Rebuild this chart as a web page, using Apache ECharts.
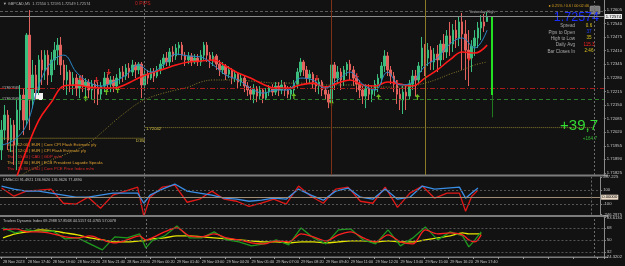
<!DOCTYPE html>
<html><head><meta charset="utf-8">
<script src="https://cdn.jsdelivr.net/npm/echarts@6/dist/echarts.min.js"></script>
<style>html,body{margin:0;padding:0;background:#121212;overflow:hidden}#c{width:625px;height:266px}</style>
</head><body><div id="c"></div>
<script>
// ---------- data ----------
const timeLabels = ["28 Nov 2023","28 Nov 17:40","28 Nov 19:00","28 Nov 20:20","28 Nov 21:40","28 Nov 23:00","29 Nov 00:20","29 Nov 01:40","29 Nov 03:00","29 Nov 04:20","29 Nov 05:40","29 Nov 07:00","29 Nov 08:20","29 Nov 09:40","29 Nov 11:00","29 Nov 12:20","29 Nov 13:40","29 Nov 15:00","29 Nov 16:20","29 Nov 17:40"];
const priceTicks = [1.72605,1.72540,1.72475,1.72410,1.72345,1.72280,1.72215,1.72150,1.72085,1.72020,1.71955,1.71890,1.71825];
const cciTicks = [287.225,100,-100,-246.2975];
const tdiTicks = [83.6134,68,50,32,24.3202];
const lastPrice = 1.72574;
const yesterdayHigh = 1.72600;
const orderLevels = [1.72231,1.72178];
const levelD1 = 1.72042;
const levelW = 1.71991;

const opens = [1.71935,1.72030,1.72102,1.71982,1.72054,1.71958,1.72126,1.72198,1.72078,1.72485,
1.72174,1.72294,1.72222,1.72366,1.72318,1.72389,1.72294,1.72366,1.72413,1.72437,
1.72342,1.72270,1.72308,1.72246,1.72279,1.72231,1.72270,1.72241,1.72260,1.72222,
1.72250,1.72231,1.72202,1.72241,1.72279,1.72250,1.72270,1.72241,1.72279,1.72308,
1.72289,1.72327,1.72308,1.72342,1.72318,1.72346,1.72246,1.72298,1.72279,1.72308,
1.72289,1.72318,1.72346,1.72375,1.72356,1.72404,1.72385,1.72423,1.72437,1.72389,
1.72366,1.72385,1.72356,1.72375,1.72356,1.72389,1.72437,1.72389,1.72366,1.72385,
1.72346,1.72318,1.72337,1.72298,1.72318,1.72279,1.72298,1.72260,1.72279,1.72241,
1.72222,1.72202,1.72231,1.72193,1.72222,1.72183,1.72212,1.72231,1.72212,1.72241,
1.72222,1.72246,1.72222,1.72202,1.72222,1.72250,1.72308,1.72356,1.72318,1.72279,
1.72298,1.72260,1.72241,1.72260,1.72222,1.72202,1.72164,1.72342,1.72279,1.72308,
1.72270,1.72318,1.72346,1.72318,1.72279,1.72250,1.72222,1.72193,1.72231,1.72202,
1.72222,1.72250,1.72279,1.72337,1.72385,1.72318,1.72289,1.72250,1.72202,1.72174,
1.72212,1.72193,1.72250,1.72289,1.72270,1.72337,1.72423,1.72375,1.72413,1.72356,
1.72394,1.72366,1.72442,1.72404,1.72481,1.72442,1.72509,1.72471,1.72548,1.72490,
1.72413,1.72375,1.72432,1.72471,1.72519,1.72548,1.72550];
const closes = [1.72030,1.72102,1.71982,1.72054,1.71958,1.72126,1.72198,1.72078,1.72485,1.72174,
1.72294,1.72222,1.72366,1.72318,1.72389,1.72294,1.72366,1.72413,1.72437,1.72342,
1.72270,1.72308,1.72246,1.72279,1.72231,1.72270,1.72241,1.72260,1.72222,1.72250,
1.72231,1.72202,1.72241,1.72279,1.72250,1.72270,1.72241,1.72279,1.72308,1.72289,
1.72327,1.72308,1.72342,1.72318,1.72346,1.72246,1.72298,1.72279,1.72308,1.72289,
1.72318,1.72346,1.72375,1.72356,1.72404,1.72385,1.72423,1.72437,1.72389,1.72366,
1.72385,1.72356,1.72375,1.72356,1.72389,1.72437,1.72389,1.72366,1.72385,1.72346,
1.72318,1.72337,1.72298,1.72318,1.72279,1.72298,1.72260,1.72279,1.72241,1.72222,
1.72202,1.72231,1.72193,1.72222,1.72183,1.72212,1.72231,1.72212,1.72241,1.72222,
1.72246,1.72222,1.72202,1.72222,1.72250,1.72308,1.72356,1.72318,1.72279,1.72298,
1.72260,1.72241,1.72260,1.72222,1.72202,1.72164,1.72342,1.72279,1.72308,1.72270,
1.72318,1.72346,1.72318,1.72279,1.72250,1.72222,1.72193,1.72231,1.72202,1.72222,
1.72250,1.72279,1.72337,1.72385,1.72318,1.72289,1.72250,1.72202,1.72174,1.72212,
1.72193,1.72250,1.72289,1.72270,1.72337,1.72423,1.72375,1.72413,1.72356,1.72394,
1.72366,1.72442,1.72404,1.72481,1.72442,1.72509,1.72471,1.72548,1.72490,1.72413,
1.72375,1.72432,1.72471,1.72519,1.72548,1.72528,1.72574];
const lows = [1.71887,1.71982,1.71935,1.71925,1.71863,1.71839,1.72030,1.72006,1.72054,1.72030,
1.72135,1.72174,1.72198,1.72246,1.72270,1.72246,1.72260,1.72318,1.72342,1.72294,
1.72222,1.72198,1.72212,1.72198,1.72193,1.72183,1.72212,1.72188,1.72183,1.72174,
1.72159,1.72150,1.72174,1.72212,1.72222,1.72212,1.72212,1.72222,1.72250,1.72260,
1.72270,1.72279,1.72289,1.72279,1.72298,1.72183,1.72222,1.72250,1.72270,1.72260,
1.72279,1.72298,1.72327,1.72337,1.72337,1.72356,1.72366,1.72389,1.72366,1.72337,
1.72346,1.72337,1.72346,1.72337,1.72337,1.72366,1.72356,1.72327,1.72337,1.72318,
1.72289,1.72298,1.72270,1.72279,1.72250,1.72260,1.72231,1.72241,1.72212,1.72193,
1.72174,1.72159,1.72164,1.72174,1.72159,1.72174,1.72193,1.72193,1.72198,1.72193,
1.72202,1.72193,1.72183,1.72174,1.72202,1.72231,1.72289,1.72289,1.72250,1.72250,
1.72231,1.72212,1.72202,1.72193,1.72174,1.72135,1.72126,1.72222,1.72250,1.72222,
1.72241,1.72289,1.72270,1.72241,1.72212,1.72183,1.72155,1.72135,1.72174,1.72164,
1.72193,1.72212,1.72250,1.72308,1.72289,1.72250,1.72212,1.72155,1.72126,1.72107,
1.72126,1.72174,1.72222,1.72193,1.72250,1.72308,1.72289,1.72337,1.72318,1.72318,
1.72308,1.72337,1.72366,1.72375,1.72385,1.72404,1.72423,1.72432,1.72318,1.72270,
1.72241,1.72308,1.72385,1.72423,1.72461,1.72500,1.72549];
const highs = [1.72078,1.72150,1.72126,1.72088,1.72078,1.72174,1.72246,1.72231,1.72495,1.72605,
1.72366,1.72342,1.72389,1.72413,1.72413,1.72413,1.72404,1.72452,1.72471,1.72476,
1.72366,1.72342,1.72318,1.72308,1.72298,1.72289,1.72294,1.72279,1.72274,1.72270,
1.72270,1.72260,1.72260,1.72308,1.72298,1.72289,1.72289,1.72298,1.72327,1.72337,
1.72346,1.72351,1.72366,1.72356,1.72356,1.72356,1.72327,1.72318,1.72327,1.72327,
1.72337,1.72366,1.72394,1.72404,1.72423,1.72432,1.72442,1.72452,1.72452,1.72404,
1.72404,1.72399,1.72394,1.72394,1.72413,1.72452,1.72452,1.72404,1.72404,1.72394,
1.72366,1.72356,1.72346,1.72337,1.72327,1.72318,1.72308,1.72298,1.72289,1.72260,
1.72241,1.72250,1.72241,1.72241,1.72231,1.72231,1.72246,1.72250,1.72260,1.72260,
1.72270,1.72260,1.72241,1.72241,1.72270,1.72327,1.72375,1.72366,1.72337,1.72318,
1.72308,1.72279,1.72279,1.72270,1.72241,1.72222,1.72380,1.72356,1.72337,1.72327,
1.72337,1.72356,1.72366,1.72337,1.72298,1.72270,1.72241,1.72250,1.72250,1.72241,
1.72270,1.72298,1.72356,1.72413,1.72404,1.72337,1.72308,1.72270,1.72231,1.72241,
1.72241,1.72270,1.72318,1.72318,1.72356,1.72476,1.72442,1.72447,1.72432,1.72423,
1.72437,1.72461,1.72490,1.72509,1.72548,1.72538,1.72557,1.72572,1.72591,1.72557,
1.72509,1.72461,1.72509,1.72548,1.72581,1.72586,1.72595];

// moving averages, read every 4th bar
const maIdx = [0,4,8,12,16,20,24,28,32,36,40,44,48,52,56,60,64,68,72,76,80,84,88,92,96,100,104,108,112,116,120,124,128,132,136,140,144,148,152,156];
const blueMa = [1.71958,1.71982,1.72054,1.72246,1.72356,1.72389,1.72308,1.72260,1.72241,1.72260,1.72294,1.72342,1.72308,1.72342,1.72394,1.72385,1.72380,1.72342,1.72294,1.72270,1.72231,1.72207,1.72222,1.72222,1.72279,1.72270,1.72231,1.72270,1.72308,1.72250,1.72222,1.72308,1.72246,1.72260,1.72337,1.72375,1.72442,1.72471,1.72423,1.72509];
const redMa = [null,1.71767,1.71935,1.72078,1.72164,1.72241,1.72246,1.72236,1.72231,1.72231,1.72250,1.72279,1.72303,1.72322,1.72342,1.72356,1.72361,1.72366,1.72337,1.72303,1.72279,1.72250,1.72231,1.72231,1.72246,1.72255,1.72236,1.72255,1.72270,1.72246,1.72241,1.72260,1.72250,1.72241,1.72279,1.72318,1.72366,1.72404,1.72399,1.72437];
const oliveMa = [1.71767,1.71791,1.71829,1.71858,1.71887,1.71911,1.71935,1.71968,1.72016,1.72069,1.72117,1.72160,1.72188,1.72207,1.72222,1.72236,1.72260,1.72270,1.72270,1.72270,1.72265,1.72260,1.72255,1.72255,1.72255,1.72250,1.72246,1.72246,1.72246,1.72241,1.72236,1.72236,1.72236,1.72241,1.72255,1.72274,1.72298,1.72318,1.72342,1.72356];

// signal arrows (bar index, price)
const sellIdx = [25.4,30.5,34.4,68.3,101.3,114.1,127.2,150.2];
const sellPrice = [1.72279,1.72270,1.72308,1.72366,1.72279,1.72289,1.72255,1.72375];
const buyIdx = [27,33.7,37.3,93.9,106,121.1,133.6];
const buyPrice = [1.72183,1.72212,1.72222,1.72193,1.72159,1.72188,1.72188];

// oscillators
const oscIdx = [0,4,8,12,16,20,24,28,32,36,40,44,46,48,52,56,60,64,68,72,76,80,84,88,92,96,100,104,108,112,116,120,124,128,132,136,140,144,148,150,152,154];
const cciBlue = [158,115,86,86,58,29,0,0,29,58,58,58,-86,29,115,187,86,58,29,-14,-29,-58,-43,-14,-29,115,29,-43,86,130,0,-29,115,-29,0,158,115,130,144,-14,58,130];
const cciRed = [130,14,86,100,115,-86,-100,0,-158,29,86,144,-273,0,144,173,-72,-29,86,-29,-58,-130,-86,-29,-100,158,14,-86,115,144,-58,-86,144,-144,58,158,-14,58,58,-200,14,100];
const tdiYellow = [53,59,62,65,63.5,60.5,57.5,53,50,47,47,48.5,49,51.5,53,56,56,54.5,53,51.5,50,48.5,47,47,45.5,47,47,45.5,47,48.5,48.5,47,48.5,47,47,50,53,56,60.5,59,59,59];
const tdiRed = [65,66.5,62,62,59,54.5,53,56,50,45.5,50,56,50,53,62,68,56,54.5,59,53,50,45.5,44,48.5,47,59,54.5,48.5,57.5,62,53,47,57.5,47,44,65,59,60.5,57.5,50,47,57.5];
const tdiGreen = [68,60.5,65,62,63.5,51.5,53,44,35,54.5,53,59,38,48.5,56,71,53,53,62,50,47,41,44,50,42.5,68,53,44,65,66.5,50,44,65,41,53,69.5,50,62,56,39.5,50,62];

// vertical markers (bar index)
const vSep = 46, vBrown = 106, vOlive = 136, vRight = 190.5, rangeIdx = 157.6, levelEnd = 190;
const dayRange = [1.72572,1.72198,1.72091];

const events = [
 ["Thu | 12:00 | EUR | Core CPI Flash Estimate y/y","#e0a030"],
 ["Thu | 12:00 | EUR | CPI Flash Estimate y/y","#e0a030"],
 ["Thu | 15:30 | CAD | GDP m/m","#e02a2a"],
 ["Thu | 15:30 | EUR | ECB President Lagarde Speaks","#e0a030"],
 ["Thu | 15:30 | USD | Core PCE Price Index m/m","#e02a2a"]
];

// ---------- chart ----------
const N_SLOTS = 194;
const slots = Array.from({length:N_SLOTS},(_,i)=>i);
const candleData = opens.map((o,i)=>[o,closes[i],lows[i],highs[i]]);
const pairs = (xs,vs)=>xs.map((x,i)=>[x,vs[i]]);
const FF = '"Liberation Sans", Arial, sans-serif';
const chart = echarts.init(document.getElementById('c'),null,{renderer:'canvas'});

const hideX = (g)=>({type:'category',gridIndex:g,data:slots,show:false});
const valX = (g)=>({type:'value',gridIndex:g,min:-0.5,max:N_SLOTS-0.5,show:false});
const vDotted = (x)=>({xAxis:x,lineStyle:{color:'#6a6a6a',type:[2,2],width:1}});
const hLevel = (v,color,type)=>({yAxis:v,lineStyle:{color,type,width:1}});

const arrowDown = 'path://M3,0L5,0L5,4L8,4L4,8L0,4L3,4Z';
const arrowUp = 'path://M4,0L8,4L5,4L5,8L3,8L3,4L0,4Z';

const txt = (text,x,y,fill,size,align)=>({type:'text',silent:true,style:{text,x,y,fill,font:size+'px '+FF,align:align||'left'}});
const yAx = (g,min,max,ticks,fmt)=>({type:'value',gridIndex:g,position:'right',min,max,splitLine:{show:false},
   axisLine:{show:true,onZero:false,lineStyle:{color:'#8a8a8a'}},
   axisTick:{show:true,length:2,customValues:ticks,lineStyle:{color:'#8a8a8a'}},
   axisLabel:{customValues:ticks,showMinLabel:true,showMaxLabel:true,formatter:fmt,color:'#c8c8c8',fontSize:4.2,margin:3,fontFamily:'Liberation Sans'}});

chart.setOption({
 animation:false,
 backgroundColor:'#121212',
 grid:[
  {left:0,top:0,width:607,height:175},
  {left:0,top:177,width:607,height:37.5},
  {left:0,top:217.5,width:607,height:39.5}
 ],
 xAxis:[
  hideX(0),valX(0),hideX(1),valX(1),
  {type:'category',gridIndex:2,data:slots,axisLine:{show:false,onZero:false},
   axisTick:{show:true,interval:7,length:2,lineStyle:{color:'#9a9a9a'}},
   axisLabel:{interval:7,align:'left',margin:2.5,color:'#c8c8c8',fontSize:3.8,fontFamily:'Liberation Sans',
     formatter:(v,i)=>timeLabels[i/8]||''}},
  valX(2)
 ],
 yAxis:[
  yAx(0,1.71815,1.72653,priceTicks,v=>v.toFixed(5)),
  yAx(1,-246.2975,287.225,cciTicks,v=>String(v)),
  yAx(2,24.3202,83.6134,tdiTicks,v=>String(v))
 ],
 series:[
  {type:'candlestick',xAxisIndex:0,yAxisIndex:0,data:candleData,barWidth:2,
   itemStyle:{color:'#3bbd7d',color0:'#e4625e',borderColor:'#3bbd7d',borderColor0:'#e4625e',borderWidth:1},
   markLine:{symbol:['none','none'],precision:5,silent:true,animation:false,label:{show:false},data:[
     hLevel(yesterdayHigh,'#5c5c5c',[3,2]),
     hLevel(orderLevels[0],'#a81c1c',[5,2,1,2]),
     hLevel(orderLevels[1],'#2c7d2c',[4,3]),
     {yAxis:lastPrice,lineStyle:{color:'#8c8c8c',type:'solid',width:1},
      label:{show:true,position:'end',formatter:lastPrice.toFixed(5),backgroundColor:'#e8e8e8',color:'#000',fontSize:4.2,padding:[1,1,0,1],distance:1,fontFamily:'Liberation Sans'}}
   ]}},
  {type:'line',xAxisIndex:1,yAxisIndex:0,data:[[vSep,levelD1],[levelEnd,levelD1]],showSymbol:false,
   lineStyle:{color:'#8a7f30',type:[1,1],width:1}},
  {type:'line',xAxisIndex:1,yAxisIndex:0,data:[[0,levelW],[vSep,levelW]],showSymbol:false,
   lineStyle:{color:'#a8982c',type:[1,1],width:1}},
  {type:'line',xAxisIndex:1,yAxisIndex:0,data:pairs(maIdx,oliveMa),showSymbol:false,smooth:0.4,
   lineStyle:{color:'#8a7a2c',width:1,type:[1,1.5]},
   markLine:{symbol:['none','none'],precision:5,silent:true,label:{show:false},data:[
     vDotted(vSep),
     {xAxis:vBrown,lineStyle:{color:'#7c3016',type:'solid',width:1}},
     {xAxis:vOlive,lineStyle:{color:'#8a7a28',type:'solid',width:1}},
     vDotted(vRight),
     [{coord:[rangeIdx,dayRange[0]],lineStyle:{color:'#22e022',type:'solid',width:2}},{coord:[rangeIdx,dayRange[1]]}],
     [{coord:[rangeIdx,dayRange[1]],lineStyle:{color:'#1f7a1f',type:'solid',width:1}},{coord:[rangeIdx,dayRange[2]]}]
   ]}},
  {type:'line',xAxisIndex:1,yAxisIndex:0,data:pairs(maIdx,redMa),showSymbol:false,smooth:0.4,
   lineStyle:{color:'#ff1a1a',width:1.6}},
  {type:'line',xAxisIndex:1,yAxisIndex:0,data:pairs(maIdx,blueMa),showSymbol:false,smooth:0.4,
   lineStyle:{color:'#2a86c8',width:1}},
  {type:'scatter',xAxisIndex:1,yAxisIndex:0,data:pairs(sellIdx,sellPrice),symbol:arrowDown,symbolSize:[5,6],
   itemStyle:{color:'#ff2a2a'}},
  {type:'scatter',xAxisIndex:1,yAxisIndex:0,data:pairs(buyIdx,buyPrice),symbol:arrowUp,symbolSize:[5,6],
   itemStyle:{color:'#80e020'}},
  // CCI
  {type:'line',xAxisIndex:3,yAxisIndex:1,data:pairs(oscIdx,cciRed),showSymbol:false,
   lineStyle:{color:'#e01818',width:1.3},
   markLine:{symbol:['none','none'],precision:5,silent:true,label:{show:false},data:[
     hLevel(100,'#555',[2,2]),
     hLevel(-100,'#555',[2,2]),
     {yAxis:0,lineStyle:{color:'#a08c74',type:'solid',width:1},
      label:{show:true,position:'end',formatter:'0.00000',backgroundColor:'#ecdcc8',color:'#000',fontSize:4.2,padding:[1,1,0,1],distance:1,fontFamily:'Liberation Sans'}},
     vDotted(vSep),vDotted(vRight)
   ]}},
  {type:'line',xAxisIndex:3,yAxisIndex:1,data:pairs(oscIdx,cciBlue),showSymbol:false,
   lineStyle:{color:'#3a8ee6',width:1.3}},
  // TDI
  {type:'line',xAxisIndex:5,yAxisIndex:2,data:pairs(oscIdx,tdiYellow),showSymbol:false,smooth:0.3,
   lineStyle:{color:'#e6e600',width:1.3},
   markLine:{symbol:['none','none'],precision:5,silent:true,label:{show:false},data:[
     hLevel(68,'#555',[2,2]),hLevel(50,'#555',[2,2]),hLevel(32,'#555',[2,2]),
     vDotted(vSep),vDotted(vRight)
   ]}},
  {type:'line',xAxisIndex:5,yAxisIndex:2,data:pairs(oscIdx,tdiGreen),showSymbol:false,
   lineStyle:{color:'#1f9a1f',width:1.3}},
  {type:'line',xAxisIndex:5,yAxisIndex:2,data:pairs(oscIdx,tdiRed),showSymbol:false,smooth:0.3,
   lineStyle:{color:'#ff2020',width:1.3}}
 ],
 graphic:[
  {type:'rect',silent:true,shape:{x:0,y:174.5,width:608,height:2},style:{fill:'#7c7c7c'}},
  {type:'rect',silent:true,shape:{x:0,y:215,width:608,height:2},style:{fill:'#7c7c7c'}},
  {type:'rect',silent:true,shape:{x:0,y:256.5,width:608,height:1.5},style:{fill:'#7c7c7c'}},
  {type:'rect',silent:true,shape:{x:30,y:93,width:13,height:7},style:{fill:'#f0f0f0'}},
  {type:'rect',silent:true,shape:{x:590,y:6,width:10,height:8,r:1},style:{fill:'#7a7a7a',stroke:'#aaa',lineWidth:0.5}},
  txt('▼ GBPCAD,M5  1.72550 1.72595 1.72549 1.72574',3,2,'#b4b4b4',3.8),
  txt('0 PIPS',135,1,'#d02020',5),
  txt('● 0.25% / 0.6 / 00:02:46',589,3.5,'#d8a020',3.8,'right'),
  txt('1.72574',599,11,'#1a2cff',12.5,'right'),
  {type:'text',silent:true,style:{text:'Spread\nPips to Open\nHigh to Low\nDaily Avg\nBar Closes In',x:575,y:23,fill:'#a8a8a8',font:'4.6px '+FF,align:'right',lineHeight:6.3}},
  txt('0.6',589,23,'#d8c020',4.6,'center'),
  txt('37',589,29.3,'#2040ff',4.6,'center'),
  txt('35',589,35.6,'#d8c020',4.6,'center'),
  txt('115.3',589,41.9,'#ff2020',4.6,'center'),
  txt('2:46',589,48.2,'#d8c020',4.6,'center'),
  txt('Yesterday High',469,9.5,'#bdbdbd',3.8),
  txt('#1360340',2,85.5,'#c0c0c0',3.8),
  txt('#1360340',2,96.5,'#c0c0c0',3.8),
  txt('1.72042',146,126.5,'#d8c84a',4.2),
  txt('D1W',136,139,'#d8c84a',4),
  txt('+39,7',598,118,'#33dd33',15,'right'),
  txt('+164.7',597,136,'#33bb33',4.6,'right'),
  ...events.map((e,i)=>txt(e[0],7,142.5+i*6.2,e[1],4.2)),
  txt('DMIbCCI 91.4921 136.9626 136.9626 77.4890',3,177.5,'#c0c0c0',3.8),
  txt('Traders Dynamic Index 69.2988 57.8568 44.5157 61.0765 57.0078',3,218.5,'#c0c0c0',3.8)
 ]
});
</script></body></html>
